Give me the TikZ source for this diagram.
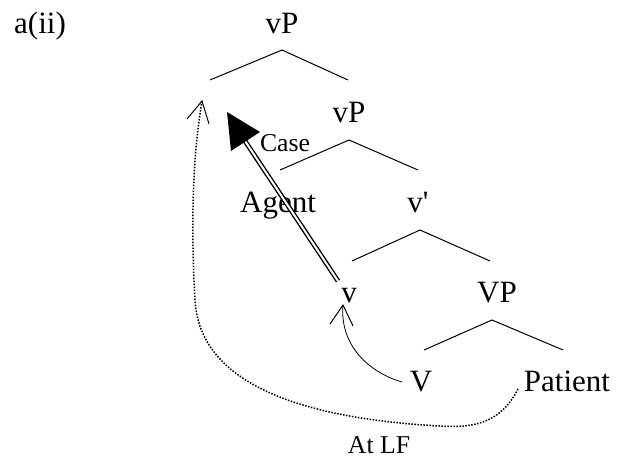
\documentclass[tikz,border=0pt]{standalone}
\usepackage{fontspec}
\setmainfont{Liberation Serif}
\usetikzlibrary{arrows.meta}
\begin{document}
\begin{tikzpicture}[x=1pt,y=-1pt,
  lab/.style={anchor=base,inner sep=0pt,font=\fontsize{31}{36}\selectfont},
  slab/.style={anchor=base,inner sep=0pt,font=\fontsize{25.7}{30}\selectfont},
  branch/.style={line width=1pt},
  dotline/.style={line width=1.5pt,dash pattern=on 1.5pt off 1.5pt},
  barb/.style={-{Straight Barb[length=20pt,width=23pt,line width=1pt]}}]
\useasboundingbox (0,0) rectangle (618,458);
% labels
\node[lab] (ex) at (40,33) {a(ii)};
\node[lab] (vP1) at (282,33) {vP};
\node[lab] (vP2) at (349,122) {vP};
\node[lab] (Ag) at (278,212) {Agent};
\node[lab] (vbar) at (418,212) {v\textquotesingle};
\node[lab] (v) at (349,302) {v};
\node[lab] (VP) at (497,302) {VP};
\node[lab] (V) at (421,391) {V};
\node[lab] (Pat) at (567,391) {Patient};
\node[slab] (case) at (285,151) {Case};
\node[slab] (atlf) at (379,453) {At LF};
% branches
\coordinate (a1) at (282,50); \coordinate (l1) at (210,80); \coordinate (r1) at (348,80);
\coordinate (a2) at (349,140); \coordinate (l2) at (280,170); \coordinate (r2) at (418,170);
\coordinate (a3) at (420,230); \coordinate (l3) at (352,261); \coordinate (r3) at (490,261);
\coordinate (a4) at (492,320); \coordinate (l4) at (424,350); \coordinate (r4) at (563,350);
\draw[branch] (l1) -- (a1) -- (r1);
\draw[branch] (l2) -- (a2) -- (r2);
\draw[branch] (l3) -- (a3) -- (r3);
\draw[branch] (l4) -- (a4) -- (r4);
% case arrow (double shaft, big filled head)
\coordinate (sfrom) at (338,281);
\coordinate (sto) at (245,141);
\coordinate (htip) at (227,112);
\coordinate (hc1) at (231,151);
\coordinate (hc2) at (260,132);
\draw[double,double distance=2pt,line width=1.4pt] (sfrom) -- (sto);
\fill (htip) -- (hc1) -- (hc2) -- cycle;
% V to v
\coordinate (Vs) at (402,382);
\coordinate (vt) at (343,304);
\draw[barb,line width=0.8pt] (Vs) .. controls (368,372) and (340,345) .. (vt);
% dotted LF movement
\coordinate (ds) at (518,389);
\coordinate (dm1) at (440,426);
\coordinate (dm2) at (195,300);
\coordinate (dt) at (202,101);
\draw[dotline] (ds) .. controls (500,425) and (470,428) .. (dm1)
  .. controls (330,420) and (200,395) .. (dm2)
  .. controls (191,230) and (192,160) .. (dt);
\draw[line width=1pt] (187,119) -- (dt) -- (209,124);
\end{tikzpicture}
\end{document}
